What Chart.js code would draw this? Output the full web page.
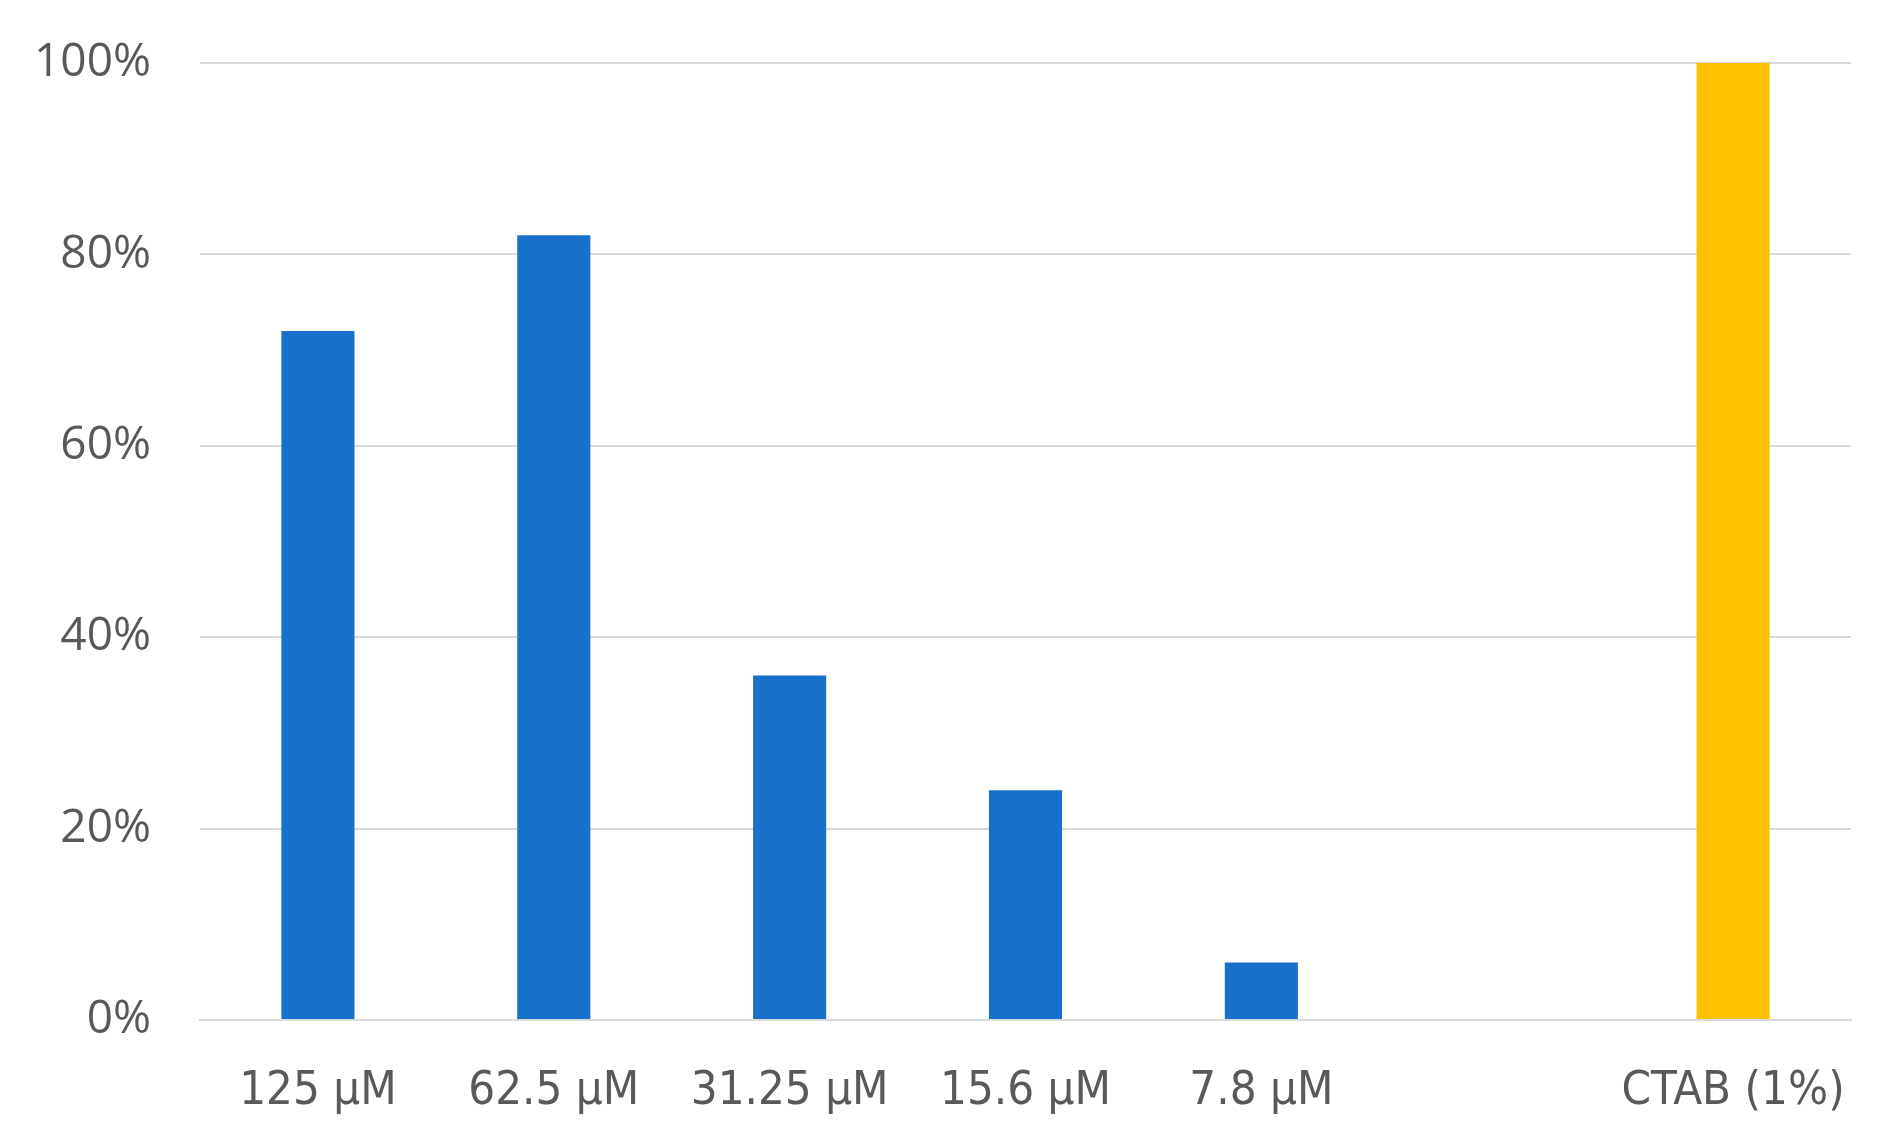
<!DOCTYPE html>
<html>
<head>
<meta charset="utf-8">
<script src="https://cdn.jsdelivr.net/npm/chart.js@4"></script>
<style>
  html, body { margin: 0; padding: 0; background: #fff; }
  #wrap { width: 1893px; height: 1146px; }
</style>
</head>
<body>
<div id="wrap"><canvas id="chart" width="1893" height="1146"></canvas></div>
<script>
const categories = ['125 µM', '62.5 µM', '31.25 µM', '15.6 µM', '7.8 µM', '', 'CTAB (1%)'];
const values = [72, 82, 36, 24, 6, null, 100];
const barColors = ['#1771CA', '#1771CA', '#1771CA', '#1771CA', '#1771CA', '#1771CA', '#FFC000'];
const yTicks = [0, 20, 40, 60, 80, 100];

const xFont = "'DejaVu Sans Condensed', 'Liberation Sans', sans-serif";
const yFont = "'Open Sans', 'Liberation Sans', sans-serif";

const ctx = document.getElementById('chart').getContext('2d');
new Chart(ctx, {
  type: 'bar',
  data: {
    labels: categories,
    datasets: [{
      data: values,
      backgroundColor: barColors,
      borderWidth: 0,
      categoryPercentage: 1,
      barPercentage: 0.31
    }]
  },
  options: {
    responsive: false,
    animation: false,
    layout: { padding: { top: 63, right: 42, left: 0, bottom: 0 } },
    plugins: { legend: { display: false }, tooltip: { enabled: false } },
    scales: {
      x: {
        grid: { display: false, drawTicks: false },
        border: { display: true, color: '#D9D9D9', width: 2 },
        ticks: {
          color: '#595959',
          font: { family: xFont, size: 47 },
          padding: 44,
          maxRotation: 0,
          autoSkip: false
        },
        afterFit: s => { s.height = 126; s.paddingLeft = 0; s.paddingRight = 0; }
      },
      y: {
        min: 0,
        max: 100,
        afterBuildTicks: s => { s.ticks = yTicks.map(v => ({ value: v })); },
        grid: { color: '#D9D9D9', lineWidth: 2, drawTicks: false },
        border: { display: false },
        ticks: {
          color: '#595959',
          font: { family: yFont, size: 46 },
          padding: 49,
          callback: v => v + '%'
        },
        afterFit: s => { s.width = 200; s.paddingTop = 0; s.paddingBottom = 0; }
      }
    }
  }
});
</script>
</body>
</html>
